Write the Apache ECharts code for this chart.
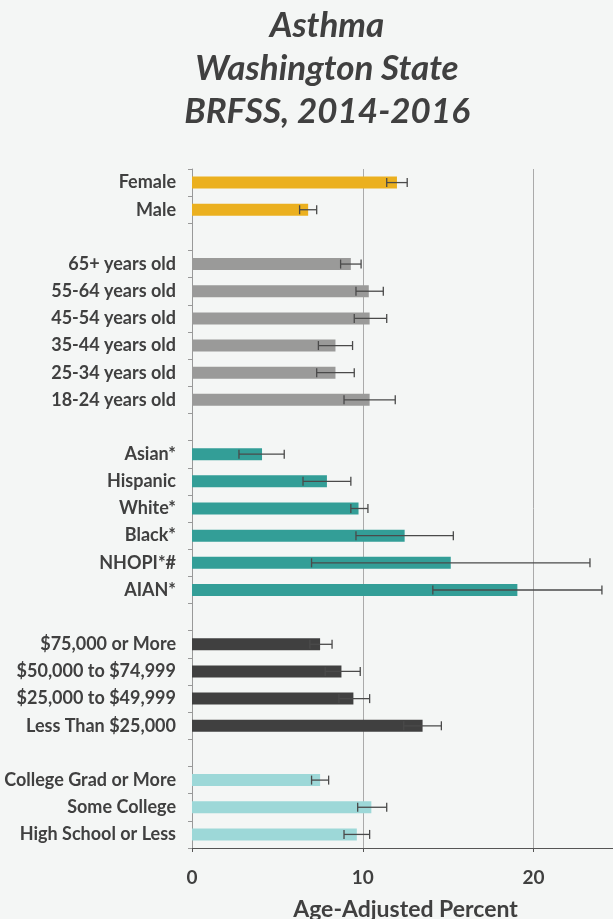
<!DOCTYPE html>
<html>
<head>
<meta charset="utf-8">
<script src="https://cdn.jsdelivr.net/npm/echarts@6/dist/echarts.min.js"></script>
<style>
html,body{margin:0;padding:0;background:#F4F6F5;}
#chart{width:613px;height:919px;}
</style>
</head>
<body>
<div id="chart"></div>
<script>
const titleLines = ['Asthma', 'Washington State', 'BRFSS, 2014-2016'];
const categories = ['Female', 'Male', ' ',
  '65+ years old', '55-64 years old', '45-54 years old', '35-44 years old', '25-34 years old', '18-24 years old', '  ',
  'Asian*', 'Hispanic', 'White*', 'Black*', 'NHOPI*#', 'AIAN*', '   ',
  '$75,000 or More', '$50,000 to $74,999', '$25,000 to $49,999', 'Less Than $25,000', '    ',
  'College Grad or More', 'Some College', 'High School or Less'];
const values = [12.0, 6.8, null,
  9.3, 10.35, 10.4, 8.4, 8.4, 10.4, null,
  4.1, 7.9, 9.75, 12.45, 15.15, 19.05, null,
  7.5, 8.75, 9.45, 13.5, null,
  7.5, 10.5, 9.65];
const ciLow = [11.4, 6.3, null,
  8.7, 9.6, 9.5, 7.4, 7.3, 8.9, null,
  2.75, 6.5, 9.3, 9.6, 7.0, 14.1, null,
  6.9, 7.8, 8.6, 12.4, null,
  7.0, 9.7, 8.9];
const ciHigh = [12.6, 7.3, null,
  9.9, 11.2, 11.4, 9.4, 9.5, 11.9, null,
  5.4, 9.3, 10.3, 15.3, 23.3, 24.0, null,
  8.2, 9.85, 10.4, 14.6, null,
  8.0, 11.4, 10.4];
const groupOf = ['sex', 'sex', null,
  'age', 'age', 'age', 'age', 'age', 'age', null,
  'race', 'race', 'race', 'race', 'race', 'race', null,
  'income', 'income', 'income', 'income', null,
  'edu', 'edu', 'edu'];
const groupColors = {sex: '#EBB01F', age: '#9A9A99', race: '#339E97', income: '#404040', edu: '#9DD8D8'};
const xTicks = [0, 10, 20];
const xMax = 25;
const axisTitle = 'Age-Adjusted Percent';

const chart = echarts.init(document.getElementById('chart'), null, {renderer: 'canvas'});

const barData = values.map((v, i) => v == null ? '-' : {
  value: v,
  itemStyle: {color: groupColors[groupOf[i]]}
});
const errData = [];
values.forEach((v, i) => { if (v != null) errData.push([i, ciLow[i], ciHigh[i]]); });

const FONT = 'Lato, "Open Sans", sans-serif';

chart.setOption({
  backgroundColor: '#F4F6F5',
  animation: false,
  title: {
    text: titleLines.join('\n'),
    left: 322,
    textAlign: 'center',
    top: -1,
    textStyle: {
      fontFamily: FONT,
      fontSize: 35,
      fontWeight: 'bold',
      fontStyle: 'italic',
      color: '#404040',
      lineHeight: 43
    }
  },
  grid: {left: 192, top: 169, width: 427, bottom: 71, containLabel: false, outerBoundsMode: 'none'},
  xAxis: {
    type: 'value',
    min: 0,
    max: xMax,
    interval: 10,
    name: axisTitle,
    nameLocation: 'middle',
    nameGap: 50,
    nameTextStyle: {fontFamily: FONT, fontSize: 23, fontWeight: 'bold', color: '#404040'},
    axisLine: {show: true, lineStyle: {color: '#555555', width: 1}},
    axisTick: {show: true, length: 4, lineStyle: {color: '#555555'}},
    axisLabel: {
      margin: 20,
      fontFamily: FONT, fontSize: 19, fontWeight: 'bold', color: '#404040',
      formatter: v => xTicks.indexOf(v) >= 0 ? String(v) : ''
    },
    splitLine: {show: true, lineStyle: {color: '#AAAAAA', width: 1}}
  },
  yAxis: {
    type: 'category',
    inverse: true,
    data: categories,
    axisLine: {show: true, lineStyle: {color: '#999999', width: 1}},
    axisTick: {show: true, length: 4, lineStyle: {color: '#999999'}},
    axisLabel: {
      margin: 16,
      fontFamily: FONT, fontSize: 18, fontWeight: 'bold', color: '#404040'
    },
    splitLine: {show: false}
  },
  series: [
    {
      type: 'bar',
      data: barData,
      barWidth: 12,
      z: 2
    },
    {
      type: 'custom',
      data: errData,
      z: 5,
      renderItem: function (params, api) {
        const idx = api.value(0);
        const p1 = api.coord([api.value(1), idx]);
        const p2 = api.coord([api.value(2), idx]);
        const h = 4.5;
        const style = {stroke: '#4A4A4A', lineWidth: 1.3};
        return {
          type: 'group',
          children: [
            {type: 'line', shape: {x1: p1[0], y1: p1[1], x2: p2[0], y2: p2[1]}, style: style},
            {type: 'line', shape: {x1: p1[0], y1: p1[1] - h, x2: p1[0], y2: p1[1] + h}, style: style},
            {type: 'line', shape: {x1: p2[0], y1: p2[1] - h, x2: p2[0], y2: p2[1] + h}, style: style}
          ]
        };
      }
    }
  ]
});
</script>
</body>
</html>
